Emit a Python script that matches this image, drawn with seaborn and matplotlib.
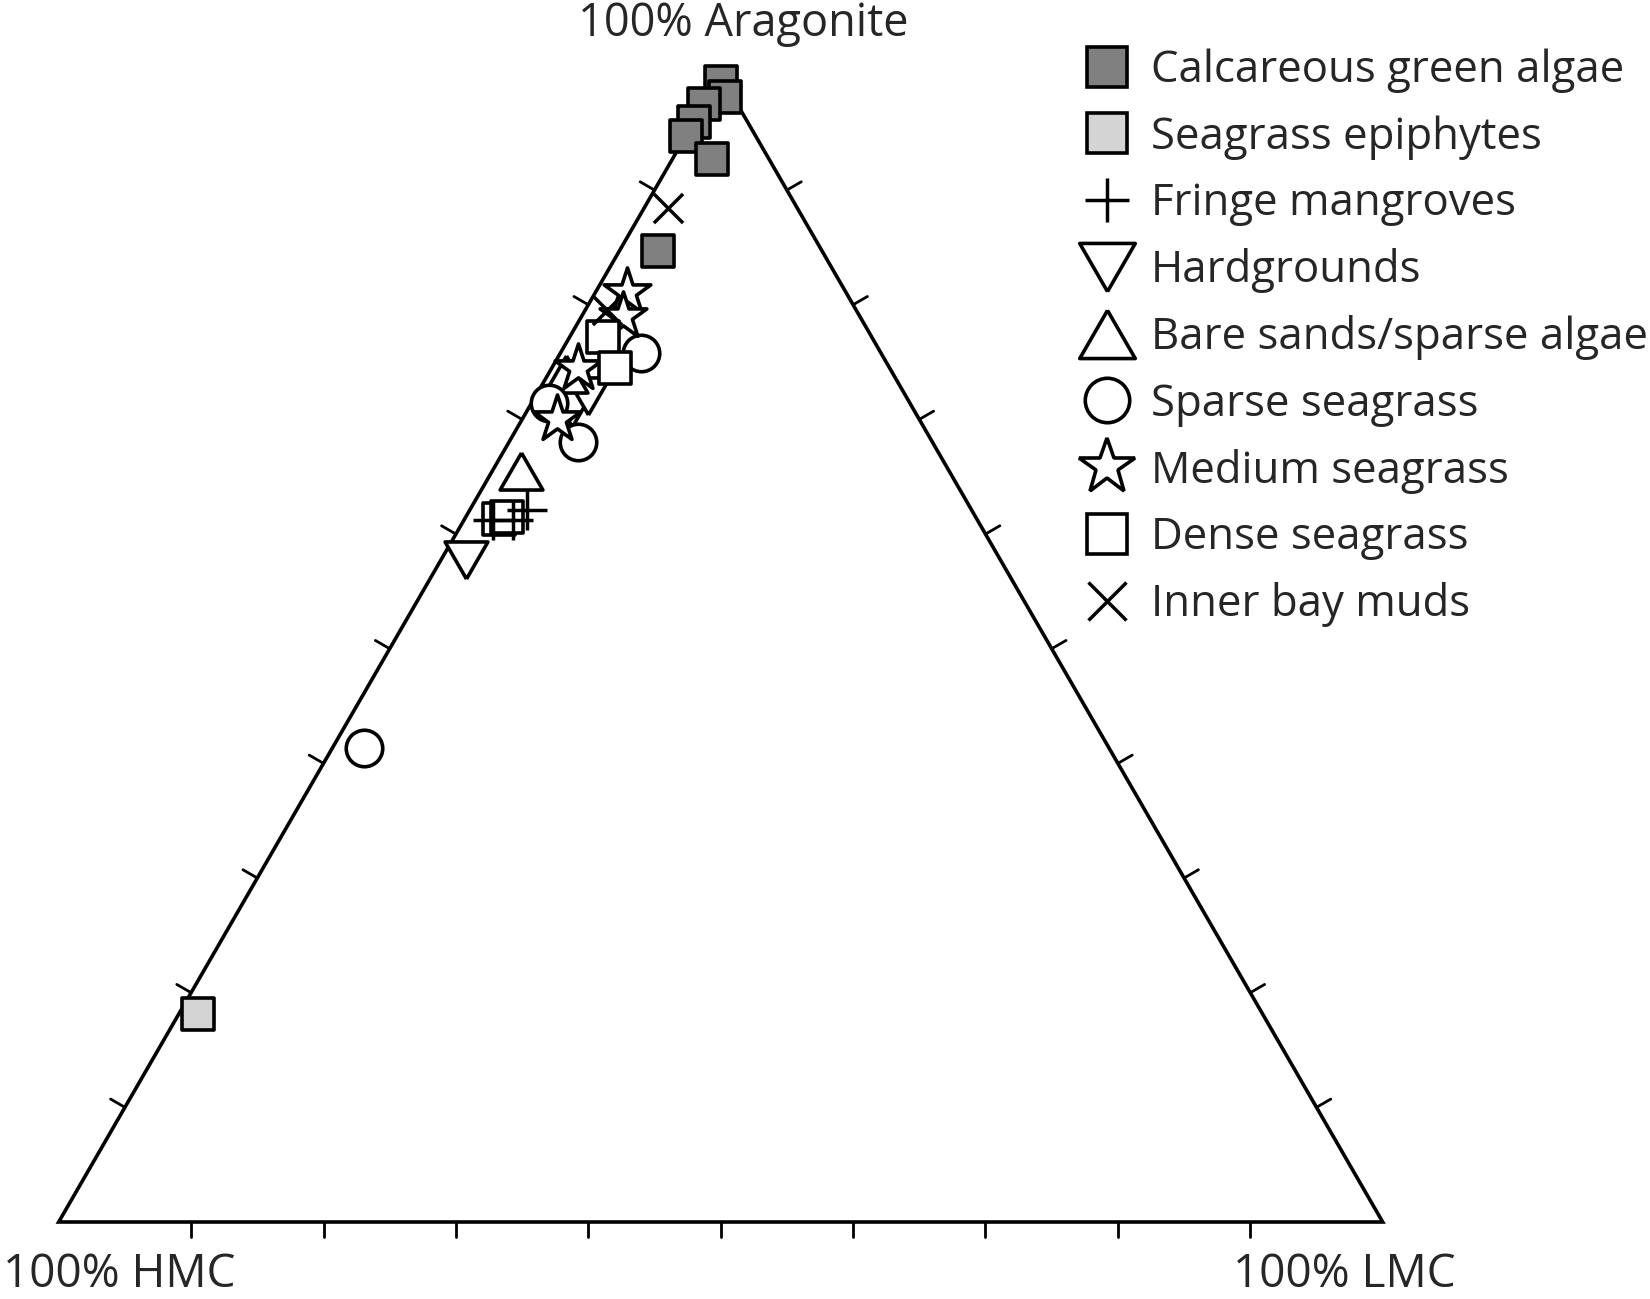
import numpy as np
import pandas as pd
import matplotlib.pyplot as plt
import seaborn as sns
from matplotlib.lines import Line2D
from matplotlib.patches import Polygon

sns.set_theme(style="white")
plt.rcParams['font.family'] = ['Open Sans', 'DejaVu Sans']

# ternary composition in percent (aragonite, LMC; HMC = rest)
groups = ["Calcareous green algae", "Seagrass epiphytes", "Fringe mangroves",
          "Hardgrounds", "Bare sands/sparse algae", "Sparse seagrass",
          "Medium seagrass", "Dense seagrass", "Inner bay muds"]

algae_arag = [99.4, 98.1, 97.5, 95.9, 94.7, 92.7, 84.7]
algae_lmc = [0.3, 1.3, 0.0, 0.0, 0.0, 3.0, 2.9]
epiph_arag = [18.1]
epiph_lmc = [1.5]
fringe_arag = [62.1, 61.2, 61.2]
fringe_lmc = [4.3, 2.2, 3.7]
hard_arag = [57.7, 71.0, 72.0]
hard_lmc = [1.9, 3.3, 4.0]
bare_arag = [65.5, 74.0]
bare_lmc = [2.2, 1.3]
sparse_arag = [75.8, 68.0, 71.4, 41.3]
sparse_lmc = [6.1, 5.2, 1.3, 2.4]
medium_arag = [81.1, 79.0, 74.5, 70.0]
medium_lmc = [2.4, 3.1, 2.0, 2.6]
dense_arag = [77.2, 74.5, 61.3, 61.5]
dense_lmc = [2.5, 4.8, 2.6, 3.1]
muds_arag = [88.4, 79.5]
muds_lmc = [1.8, 1.7]

arag = [algae_arag, epiph_arag, fringe_arag, hard_arag, bare_arag,
        sparse_arag, medium_arag, dense_arag, muds_arag]
lmc = [algae_lmc, epiph_lmc, fringe_lmc, hard_lmc, bare_lmc,
       sparse_lmc, medium_lmc, dense_lmc, muds_lmc]

rows = []
for g, aa, ll in zip(groups, arag, lmc):
    for a, l in zip(aa, ll):
        rows.append({"group": g, "aragonite": a, "lmc": l, "hmc": 100 - a - l})
df = pd.DataFrame(rows)
h = np.sqrt(3) / 2
df["x"] = df["lmc"] + df["aragonite"] / 2
df["y"] = df["aragonite"] * h

# equilateral triangle markers (closed)
tri_up = [(0, 0.433), (-0.5, -0.433), (0.5, -0.433), (0, 0.433)]
tri_dn = [(0, -0.433), (-0.5, 0.433), (0.5, 0.433), (0, -0.433)]

# marker, size (pt^2), face, legend markersize
style = {
    "Calcareous green algae": ("s", 540, "#808080", 29),
    "Seagrass epiphytes": ("s", 540, "#d4d4d4", 29),
    "Fringe mangroves": ("+", 830, "black", 32),
    "Hardgrounds": (tri_dn, 950, "white", 40),
    "Bare sands/sparse algae": (tri_up, 950, "white", 40),
    "Sparse seagrass": ("o", 690, "white", 32),
    "Medium seagrass": ("*", 1250, "white", 42),
    "Dense seagrass": ("s", 540, "white", 29),
    "Inner bay muds": ("x", 440, "black", 27),
}
draw_order = ["Calcareous green algae", "Seagrass epiphytes", "Hardgrounds",
              "Bare sands/sparse algae", "Sparse seagrass", "Medium seagrass",
              "Dense seagrass", "Fringe mangroves", "Inner bay muds"]

fig = plt.figure(figsize=(16.5, 12.99), dpi=100)
ax = fig.add_axes([0, 0, 1, 1])
ax.set_xlim(-4.434, 120.19)
ax.set_ylim(-5.816, 92.30)
ax.axis("off")

# triangle frame
ax.add_patch(Polygon([(0, 0), (100, 0), (50, 100 * h)], closed=True, fill=False,
                     edgecolor="black", lw=2.6, joinstyle="miter", zorder=1))
tl = 1.25
for k in range(10, 100, 10):
    ax.plot([k, k], [0, -1.15], color="black", lw=2, zorder=1)
    bx, by = k / 2, k * h
    ax.plot([bx, bx - h * tl], [by, by + 0.5 * tl], color="black", lw=2, zorder=1)
    rx = 100 - k / 2
    ax.plot([rx, rx + h * tl], [by, by + 0.5 * tl], color="black", lw=2, zorder=1)

for i, g in enumerate(draw_order):
    m, s, fc, _ = style[g]
    sub = df[df["group"] == g]
    if m in ("+", "x"):
        sns.scatterplot(data=sub, x="x", y="y", marker=m, s=s, color="black",
                        linewidth=2.5, legend=False, ax=ax, zorder=3 + i)
    else:
        sns.scatterplot(data=sub, x="x", y="y", marker=m, s=s, color=fc,
                        edgecolor="black", linewidth=2.6, legend=False, ax=ax,
                        zorder=3 + i)

ax.text(51.68, 89.58, "100% Aragonite", ha="center", va="baseline", fontsize=32.5)
ax.text(-4.2, -5.74, "100% HMC", ha="left", va="bottom", fontsize=33)
ax.text(97.08, -5.74, "100% LMC", ha="center", va="bottom", fontsize=33)

handles = []
for g in groups:
    m, s, fc, ms = style[g]
    if m in ("+", "x"):
        handles.append(Line2D([], [], marker=m, markersize=ms, color="black",
                              markeredgewidth=2.5, linestyle="None"))
    else:
        handles.append(Line2D([], [], marker=m, markersize=ms, markerfacecolor=fc,
                              markeredgecolor="black", markeredgewidth=2.6,
                              linestyle="None"))
fig.legend(handles, groups, loc="upper left", bbox_to_anchor=(1085 / 1650, 1 - 48.5 / 1299),
           frameon=False, fontsize=31.5, handlelength=1.0, handletextpad=0.51,
           labelspacing=0.504, borderpad=0, borderaxespad=0)

fig.savefig("out.png", dpi=100)
